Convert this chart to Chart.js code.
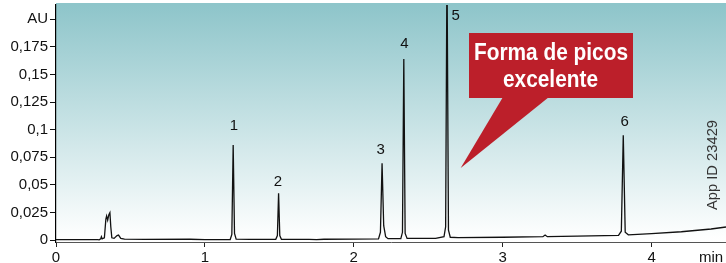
<!DOCTYPE html>
<html>
<head>
<meta charset="utf-8">
<script src="https://cdn.jsdelivr.net/npm/chart.js@4"></script>
<style>
  html, body { margin: 0; padding: 0; background: #fff; }
  canvas { display: block; }
</style>
</head>
<body>
<canvas id="chrom" width="726" height="263"></canvas>
<script>
// Chromatogram, AU vs min

const yTickValues = [0, 0.025, 0.05, 0.075, 0.1, 0.125, 0.15, 0.175, 0.2];
const yTickLabels = ['0', '0,025', '0,05', '0,075', '0,1', '0,125', '0,15', '0,175', 'AU'];
const xTickValues = [0, 1, 2, 3, 4];

// retention time (min)
const times = [
  0, 0.28, 0.29, 0.30, 0.305, 0.31, 0.325, 0.335, 0.34, 0.347, 0.355, 0.362, 0.368, 0.375,
  0.39, 0.41, 0.42, 0.435, 0.46, 0.6, 0.9, 1.0,
  1.17, 1.181, 1.19, 1.199, 1.21, 1.3,
  1.476, 1.487, 1.495, 1.503, 1.514, 1.7, 1.75, 1.8, 2.0,
  2.166, 2.179, 2.19, 2.201, 2.214, 2.23, 2.316, 2.327, 2.336, 2.345, 2.358,
  2.55, 2.606, 2.617, 2.626, 2.636, 2.648, 2.7, 3.0,
  3.27, 3.285, 3.3, 3.5, 3.778, 3.797, 3.81, 3.823, 3.844, 4.0, 4.2, 4.4, 4.5
];
// absorbance (AU)
const absorbance = [
  0.0004, 0.0003, 0.0002, 0.001, 0.003, 0.001, 0.002, 0.019, 0.0218, 0.018, 0.023, 0.0248, 0.012, 0.002,
  0.0015, 0.004, 0.0045, 0.0015, 0.0008, 0.0006, 0.0007, 0.0004,
  0.0004, 0.005, 0.0861, 0.006, 0.0008, 0.0006,
  0.0006, 0.004, 0.0423, 0.004, 0.0007, 0.0006, 0.0003, 0.0007, 0.0008,
  0.001, 0.007, 0.0695, 0.013, 0.003, 0.0012, 0.0012, 0.007, 0.164, 0.006, 0.0014,
  0.0015, 0.003, 0.012, 0.25, 0.009, 0.0025, 0.0022, 0.0025,
  0.003, 0.0045, 0.003, 0.0035, 0.0042, 0.008, 0.095, 0.007, 0.0047, 0.0058, 0.0075, 0.010, 0.0118
];

const peakNames       = ['1', '2', '3', '4', '5', '6'];
const peakLabelTimes  = [1.195, 1.49, 2.18, 2.34, 2.685, 3.82];
const peakLabelValues = [0.1034, 0.0526, 0.0816, 0.1777, 0.203, 0.107];

const FONT = '"Liberation Sans", Arial, Helvetica, sans-serif';

function fitText(ctx, text, cx, cy, width) {
  const w = ctx.measureText(text).width;
  ctx.save();
  ctx.translate(cx, cy);
  ctx.scale(width / w, 1);
  ctx.fillText(text, 0, 0);
  ctx.restore();
}

const backdrop = {
  id: 'backdrop',
  beforeDraw(chart) {
    const { ctx, chartArea: a } = chart;
    const g = ctx.createLinearGradient(0, a.top, 0, a.bottom);
    g.addColorStop(0, '#8ec5ca');
    g.addColorStop(0.97, '#fdfefe');
    g.addColorStop(1, '#ffffff');
    ctx.save();
    ctx.fillStyle = g;
    ctx.fillRect(a.left, a.top - 2, a.right - a.left, a.bottom - a.top + 2);
    ctx.restore();
  }
};

const annotations = {
  id: 'annotations',
  afterDraw(chart) {
    const { ctx } = chart;
    const xs = chart.scales.x, ys = chart.scales.y;
    ctx.save();

    // peak numbers
    ctx.fillStyle = '#111';
    ctx.font = '15px ' + FONT;
    ctx.textAlign = 'center';
    ctx.textBaseline = 'middle';
    peakNames.forEach((n, i) => {
      ctx.fillText(n, xs.getPixelForValue(peakLabelTimes[i]), ys.getPixelForValue(peakLabelValues[i]));
    });

    // axis unit
    ctx.fillText('min', 711, 258);

    // callout
    const tipX = xs.getPixelForValue(2.718), tipY = ys.getPixelForValue(0.0653);
    ctx.fillStyle = '#bc1f2a';
    ctx.beginPath();
    ctx.moveTo(503, 97);
    ctx.lineTo(549, 97);
    ctx.lineTo(tipX, tipY);
    ctx.closePath();
    ctx.fill();
    ctx.fillRect(469, 33, 164, 65);

    ctx.fillStyle = '#fff';
    ctx.font = 'bold 23px ' + FONT;
    fitText(ctx, 'Forma de picos', 551, 54, 154);
    fitText(ctx, 'excelente', 550.5, 81, 95);

    // app id
    ctx.fillStyle = '#333';
    ctx.font = '14px ' + FONT;
    ctx.translate(713, 165);
    ctx.rotate(-Math.PI / 2);
    fitText(ctx, 'App ID 23429', 0, 0, 90);

    ctx.restore();
  }
};

new Chart(document.getElementById('chrom'), {
  type: 'line',
  data: {
    datasets: [{
      data: times.map((t, i) => ({ x: t, y: absorbance[i] })),
      borderColor: '#111',
      borderWidth: 1.3,
      pointRadius: 0,
      tension: 0,
      fill: false,
    }],
  },
  options: {
    responsive: false,
    animation: false,
    devicePixelRatio: 1,
    layout: { padding: { top: 5, right: 0, left: 0, bottom: 0 } },
    plugins: { legend: { display: false }, tooltip: { enabled: false } },
    scales: {
      x: {
        type: 'linear',
        min: 0,
        max: 4.5,
        afterBuildTicks: s => { s.ticks = xTickValues.map(v => ({ value: v })); },
        afterFit: s => { s.height = 21; s.paddingLeft = 0; s.paddingRight = 0; },
        ticks: { color: '#111', font: { size: 15, family: FONT }, padding: 2, maxRotation: 0 },
        grid: { drawOnChartArea: false, drawTicks: true, tickLength: 5, color: '#222' },
        border: { display: true, color: '#555', width: 1 },
      },
      y: {
        min: -0.0018,
        max: 0.213,
        afterBuildTicks: s => { s.ticks = yTickValues.map(v => ({ value: v })); },
        afterFit: s => { s.width = 56; s.paddingTop = 0; s.paddingBottom = 0; },
        ticks: {
          color: '#111',
          font: { size: 15, family: FONT },
          padding: 2,
          callback: (v, i) => yTickLabels[i],
        },
        grid: { drawOnChartArea: false, drawTicks: true, tickLength: 6, color: '#111' },
        border: { display: true, color: '#000', width: 1.2 },
      },
    },
  },
  plugins: [backdrop, annotations],
});
</script>
</body>
</html>
